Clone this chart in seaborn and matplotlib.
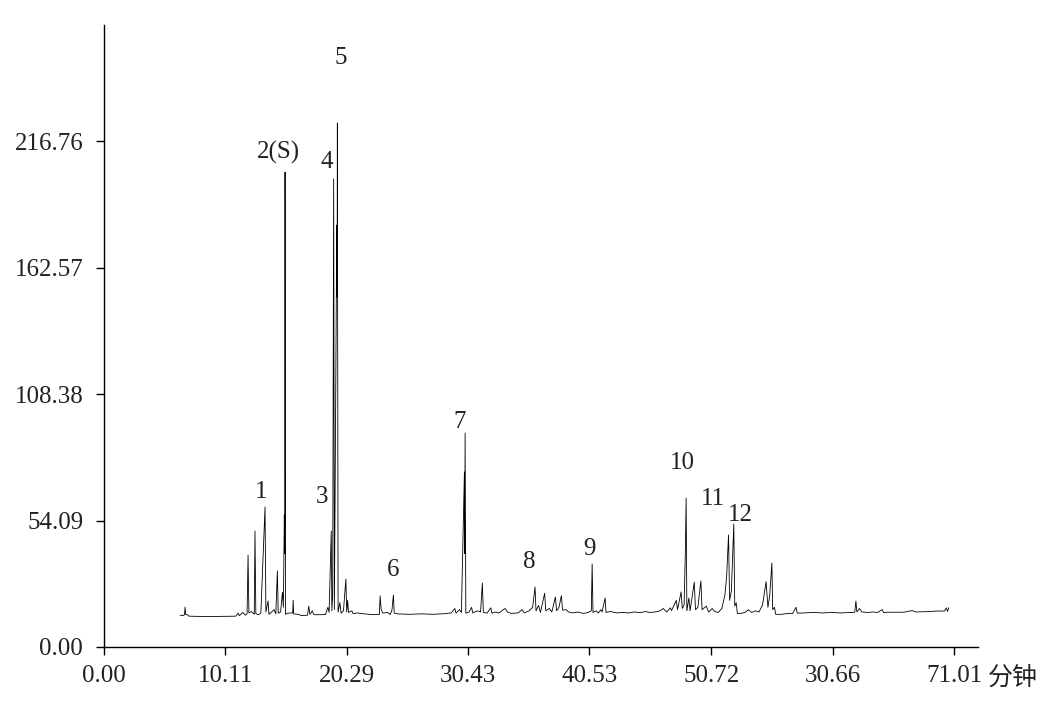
import matplotlib
matplotlib.use("Agg")
import matplotlib.pyplot as plt
import seaborn as sns
import pandas as pd

# retention time (min) and detector signal
rt = [6.35, 6.60, 6.72, 6.77, 6.82, 6.95, 7.10, 8.00, 9.50, 11.00, 11.20, 11.30, 11.60, 11.80,
      11.95, 12.03, 12.10, 12.30, 12.55, 12.61, 12.68, 12.90, 13.10, 13.45, 13.52, 13.70, 13.78,
      14.00, 14.20, 14.35, 14.48, 14.55, 14.75, 14.90, 14.98, 15.06, 15.09, 15.12, 15.16, 15.35,
      15.76, 15.80, 15.84, 16.20, 16.50, 17.00, 17.10, 17.20, 17.40, 17.50, 17.70, 18.50, 18.70, 18.80,
      18.98, 19.03, 19.10, 19.18, 19.24, 19.44, 19.47, 19.49, 19.55, 19.70, 19.80, 20.00, 20.20,
      20.27, 20.35, 20.42, 20.70, 20.80, 21.20, 21.50, 22.00, 22.30, 23.00, 23.06, 23.15, 23.30,
      23.70, 23.90, 24.05, 24.17, 24.24, 24.50, 25.50, 26.50, 27.50, 28.50, 29.00, 29.30, 29.40,
      29.70, 29.85, 30.10, 30.13, 30.16, 30.22, 30.50, 30.70, 30.80, 31.20, 31.45, 31.60, 31.68,
      32.00, 32.30, 32.40, 32.70, 33.00, 33.30, 33.50, 33.70, 34.00, 34.60, 34.90, 35.10, 35.50,
      35.80, 36.00, 36.08, 36.30, 36.45, 36.80, 36.90, 37.20, 37.40, 37.70, 37.80, 38.00, 38.20,
      38.30, 38.60, 38.80, 39.20, 39.60, 40.00, 40.40, 40.70, 40.77, 40.84, 41.10, 41.30, 41.50,
      41.60, 41.85, 41.93, 42.30, 42.80, 43.30, 43.80, 44.30, 44.80, 45.20, 45.60, 46.00, 46.40,
      46.70, 47.00, 47.30, 47.40, 47.80, 47.90, 48.20, 48.30, 48.45, 48.55, 48.62, 48.68, 48.85,
      48.95, 49.30, 49.40, 49.60, 49.85, 49.95, 50.30, 50.50, 50.80, 51.00, 51.30, 51.60, 51.85,
      52.00, 52.16, 52.25, 52.40, 52.60, 52.68, 52.80, 52.90, 53.30, 53.60, 53.80, 54.10, 54.40,
      54.70, 55.00, 55.30, 55.45, 55.60, 55.78, 55.85, 56.00, 56.10, 56.60, 57.00, 57.50, 57.80,
      57.90, 58.50, 59.20, 60.00, 60.80, 61.50, 62.00, 62.50, 62.70, 62.80, 62.88, 63.10, 63.30,
      63.80, 64.20, 64.60, 65.00, 65.10, 65.50, 66.80, 67.50, 67.80, 69.00, 69.60, 70.20, 70.35,
      70.45, 70.55]
signal = [13.6, 13.5, 13.8, 17.1, 14.0, 13.9, 13.2, 13.1, 13.1, 13.2, 14.5, 13.4, 14.8, 13.6,
          14.2, 39.4, 14.6, 15.2, 14.0, 49.7, 14.3, 13.8, 14.5, 60.0, 15.0, 19.7, 14.0,
          15.0, 16.0, 14.2, 32.6, 14.5, 15.0, 23.5, 17.0, 56.6, 40.0, 203.5, 14.0, 14.5,
          14.6, 20.0, 14.2, 14.0, 13.5, 13.6, 17.5, 14.0, 15.5, 14.0, 13.8, 13.9, 17.0, 14.8,
          49.7, 15.5, 22.0, 200.5, 16.0, 180.8, 150.0, 224.5, 15.0, 19.0, 14.5, 15.5, 29.1,
          15.0, 20.0, 14.8, 15.5, 14.3, 14.6, 14.3, 14.1, 13.9, 14.0, 21.9, 16.0, 14.5,
          14.8, 13.9, 15.8, 22.3, 14.5, 14.2, 14.0, 14.2, 14.0, 14.3, 14.6, 16.5, 14.5,
          16.0, 14.8, 75.0, 40.0, 91.7, 14.5, 15.0, 17.0, 14.6, 15.5, 15.0, 27.4, 14.8,
          14.5, 16.8, 14.5, 15.0, 14.6, 15.8, 16.5, 15.0, 14.4, 14.6, 16.0, 14.6, 15.5,
          17.0, 25.7, 15.5, 17.8, 14.8, 23.0, 15.5, 16.5, 15.0, 21.4, 15.5, 17.0, 22.0,
          15.8, 16.0, 15.0, 14.6, 15.0, 14.4, 14.7, 15.5, 35.6, 14.8, 15.5, 14.6, 16.0,
          15.0, 21.0, 14.8, 15.2, 14.6, 14.8, 14.6, 15.0, 14.7, 15.2, 14.8, 15.0, 15.4,
          16.5, 15.0, 16.8, 15.6, 20.0, 16.0, 23.6, 16.5, 18.0, 40.0, 63.8, 15.5, 21.0,
          15.5, 27.8, 16.0, 17.0, 28.3, 16.0, 17.5, 15.0, 16.5, 15.2, 14.8, 16.5, 22.0,
          30.0, 48.0, 20.0, 24.0, 52.7, 17.5, 19.0, 14.3, 14.5, 15.0, 16.0, 14.8, 15.5,
          15.0, 18.0, 28.0, 17.0, 22.0, 36.0, 16.0, 17.0, 14.0, 14.0, 14.3, 14.3, 17.0,
          14.5, 14.6, 14.8, 14.6, 14.8, 14.6, 14.7, 14.8, 14.9, 19.7, 15.0, 16.5, 15.0,
          14.8, 15.0, 14.8, 16.0, 14.8, 14.9, 14.9, 15.6, 15.0, 15.2, 15.4, 15.4, 16.8,
          15.2, 16.8]

# peak labels and where they are written
peak_labels = ["1", "2(S)", "3", "4", "5", "6", "7", "8", "9", "10", "11", "12"]
label_rt = [13.12, 14.54, 18.21, 18.63, 19.80, 24.14, 29.74, 35.50, 40.52, 48.29, 50.88, 53.13]
label_y = [66.4, 212.0, 64.3, 207.8, 252.4, 33.0, 96.4, 36.4, 42.0, 78.8, 63.4, 56.6]

xtick_pos = [0.00, 10.11, 20.29, 30.43, 40.53, 50.72, 60.86, 71.01]
xtick_labels = ["0.00", "10.11", "20.29", "30.43", "40.53", "50.72", "30.66", "71.01"]
ytick_pos = [0.00, 54.09, 108.38, 162.57, 216.76]

sns.set_theme(style="ticks")
plt.rcParams["font.family"] = ["Liberation Serif", "Noto Sans CJK SC"]

df = pd.DataFrame({"rt": rt, "signal": signal})

fig = plt.figure(figsize=(10.57, 7.12), dpi=100)
ax = fig.add_axes([0.0984, 0.0913, 0.8269, 0.8736])
sns.lineplot(data=df, x="rt", y="signal", color="black", lw=0.6,
             estimator=None, sort=False, ax=ax)

for lab, x, y in zip(peak_labels, label_rt, label_y):
    ax.text(x, y, lab, ha="center", va="center", fontsize=18, color="#222222")

ax.set_xlim(0, 73.0)
ax.set_ylim(0, 266.5)
ax.set_xticks(xtick_pos)
ax.set_xticklabels(xtick_labels)
ax.set_yticks(ytick_pos)
ax.set_yticklabels(["%.2f" % v for v in ytick_pos])
ax.tick_params(axis="both", labelsize=18, length=6, width=1, color="black",
               labelcolor="#222222")
ax.tick_params(axis="y", pad=9)
ax.tick_params(axis="x", pad=7)
ax.set_xlabel("")
ax.set_ylabel("")
sns.despine(ax=ax)
for s in ["left", "bottom"]:
    ax.spines[s].set_color("black")
    ax.spines[s].set_linewidth(1)

fig.text(1013 / 1057, 1 - 679 / 712, "分钟", ha="center", va="center",
         fontsize=18, color="#222222")

fig.savefig("out.png", dpi=100)
